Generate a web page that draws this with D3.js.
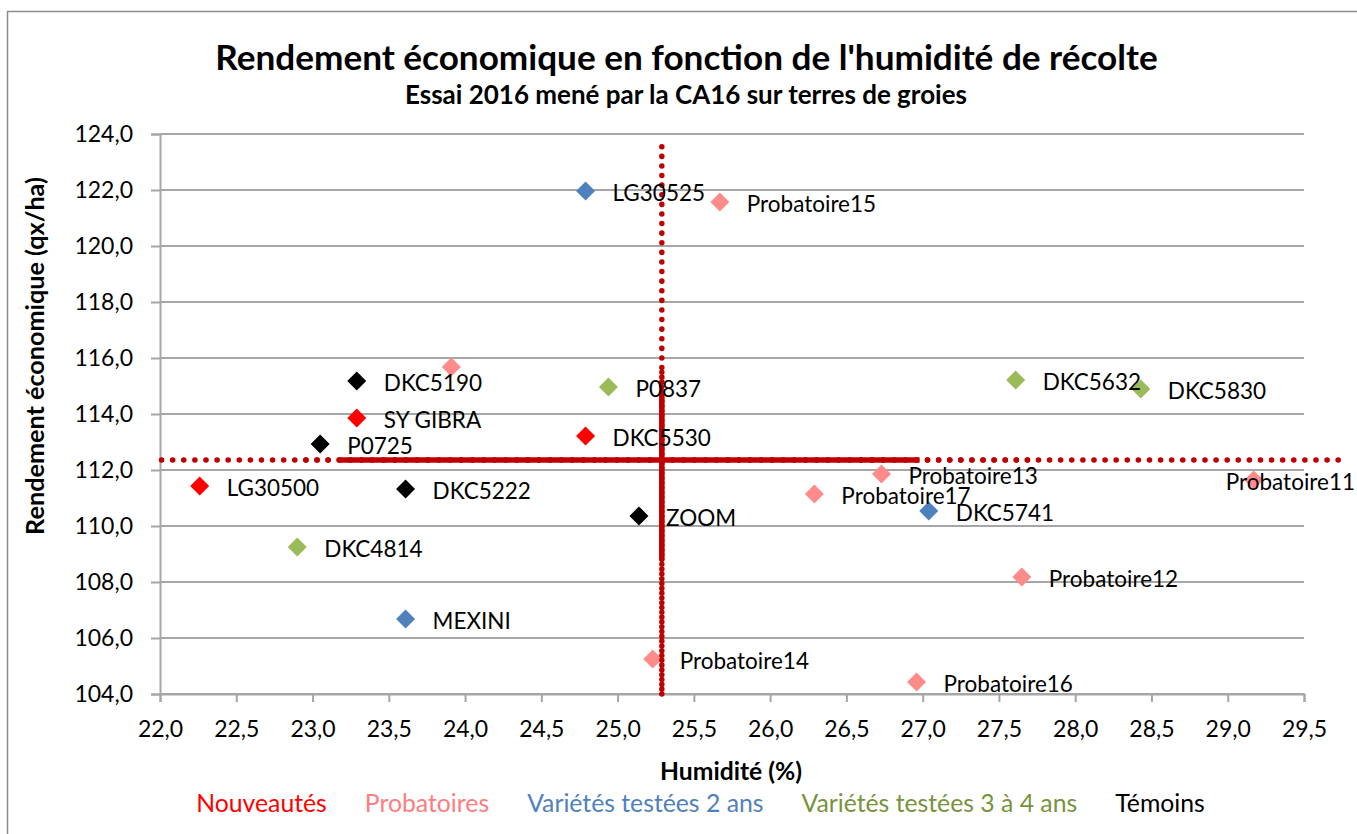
<!DOCTYPE html>
<html>
<head>
<meta charset="utf-8">
<script src="https://cdn.jsdelivr.net/npm/d3@7"></script>
<style>
  html, body { margin: 0; padding: 0; background: #fff; }
  svg { display: block; font-family: Lato, "Open Sans", sans-serif; }
</style>
</head>
<body>
<svg id="chart" width="1357" height="834"></svg>
<script>
// ---------------- DATA ----------------
const titleText = "Rendement économique en fonction de l'humidité de récolte";
const subtitleText = "Essai 2016 mené par la CA16 sur terres de groies";
const xAxisTitle = "Humidité (%)";
const yAxisTitle = "Rendement économique (qx/ha)";

const xTickValues = [22.0, 22.5, 23.0, 23.5, 24.0, 24.5, 25.0, 25.5, 26.0, 26.5, 27.0, 27.5, 28.0, 28.5, 29.0, 29.5];
const yTickValues = [104, 106, 108, 110, 112, 114, 116, 118, 120, 122, 124];

const seriesNames = ["Nouveautés", "Probatoires", "Variétés testées 2 ans", "Variétés testées 3 à 4 ans", "Témoins"];

const nouveautesNames = ["LG30500", "SY GIBRA", "DKC5530"];
const nouveautesX = [22.26, 23.29, 24.79];
const nouveautesY = [111.43, 113.86, 113.21];

const probatoiresNames = ["", "Probatoire15", "Probatoire13", "Probatoire17", "Probatoire11", "Probatoire12", "Probatoire14", "Probatoire16"];
const probatoiresX = [23.91, 25.67, 26.73, 26.29, 29.17, 27.65, 25.23, 26.96];
const probatoiresY = [115.68, 121.57, 111.86, 111.14, 111.64, 108.18, 105.25, 104.43];

const deuxAnsNames = ["LG30525", "DKC5741", "MEXINI"];
const deuxAnsX = [24.79, 27.04, 23.61];
const deuxAnsY = [121.96, 110.54, 106.68];

const troisAnsNames = ["P0837", "DKC5632", "DKC5830", "DKC4814"];
const troisAnsX = [24.94, 27.61, 28.43, 22.90];
const troisAnsY = [114.96, 115.21, 114.89, 109.25];

const temoinsNames = ["DKC5190", "P0725", "DKC5222", "ZOOM"];
const temoinsX = [23.29, 23.05, 23.61, 25.14];
const temoinsY = [115.18, 112.93, 111.32, 110.36];

// mean reference lines (moyennes)
const meanX = 25.29;
const meanY = 112.36;
const hLineExtent = [22.01, 29.74];
const hDenseExtent = [22.92, 27.70];
const hSolidExtent = [23.18, 26.98];
const vLineExtent = [104.0, 123.8];
const vDenseExtent = [104.0, 115.6];
const vSolidExtent = [108.8, 114.6];

// ---------------- STYLE ----------------
const markerColors = ["#FF0000", "#FF8B8B", "#4F81BD", "#9BBB59", "#000000"];
const legendColors = ["#FF0000", "#FF7C80", "#4F81BD", "#77933C", "#000000"];
const meanColor = "#C00000";
const gridColor = "#A6A6A6";

const svg = d3.select("#chart");
const x = d3.scaleLinear().domain([22, 29.5]).range([160, 1304]);
const y = d3.scaleLinear().domain([104, 124]).range([694, 134]);
const fmt = v => d3.format(".1f")(v).replace(".", ",");

// outer frame
svg.append("path")
  .attr("d", "M7.5,840 L7.5,11.5 L1360,11.5")
  .attr("fill", "none").attr("stroke", "#8C8C8C").attr("stroke-width", 1.5);

function fitText(sel, target) {
  const w = sel.node().getComputedTextLength();
  const fs = parseFloat(sel.attr("font-size"));
  sel.attr("font-size", fs * target / w);
}

// titles
const t1 = svg.append("text").attr("x", 686.5).attr("y", 70).attr("text-anchor", "middle")
  .attr("font-weight", "bold").attr("font-size", 36).attr("fill", "#000").text(titleText);
fitText(t1, 943);
const t2 = svg.append("text").attr("x", 686).attr("y", 104).attr("text-anchor", "middle")
  .attr("font-weight", "bold").attr("font-size", 22).attr("fill", "#000").text(subtitleText);
fitText(t2, 562);

// gridlines
svg.append("g").selectAll("line").data(yTickValues).join("line")
  .attr("x1", x(22)).attr("x2", x(29.5))
  .attr("y1", d => y(d)).attr("y2", d => y(d))
  .attr("stroke", gridColor).attr("stroke-width", 2);

// axes
const xAxis = svg.append("g").attr("transform", `translate(0,${y(104)})`)
  .call(d3.axisBottom(x).tickValues(xTickValues).tickFormat(fmt).tickSize(8).tickPadding(19));
const yAxis = svg.append("g").attr("transform", `translate(${x(22)},0)`)
  .call(d3.axisLeft(y).tickValues(yTickValues).tickFormat(fmt).tickSize(9).tickPadding(18));
[xAxis, yAxis].forEach(g => {
  g.select(".domain").attr("stroke", gridColor).attr("stroke-width", 2);
  g.selectAll(".tick line").attr("stroke", gridColor).attr("stroke-width", 2);
  g.selectAll(".tick text").attr("font-size", 23).attr("fill", "#000")
    .attr("font-family", "Lato, 'Open Sans', sans-serif");
});

// axis titles
const xt = svg.append("text").attr("x", 731).attr("y", 780).attr("text-anchor", "middle")
  .attr("font-weight", "bold").attr("font-size", 21).text(xAxisTitle);
fitText(xt, 142);
const yt = svg.append("text").attr("transform", "translate(44,356) rotate(-90)")
  .attr("text-anchor", "middle").attr("font-weight", "bold").attr("font-size", 21).text(yAxisTitle);
fitText(yt, 358);

// points
const allSeries = [
  {names: nouveautesNames, xs: nouveautesX, ys: nouveautesY},
  {names: probatoiresNames, xs: probatoiresX, ys: probatoiresY},
  {names: deuxAnsNames, xs: deuxAnsX, ys: deuxAnsY},
  {names: troisAnsNames, xs: troisAnsX, ys: troisAnsY},
  {names: temoinsNames, xs: temoinsX, ys: temoinsY}
];
const pts = [];
allSeries.forEach((s, si) => s.names.forEach((n, i) => pts.push({name: n, x: s.xs[i], y: s.ys[i], s: si})));

const r = 9.5;
const diamond = d => `M${x(d.x)},${y(d.y) - r}L${x(d.x) + r},${y(d.y)}L${x(d.x)},${y(d.y) + r}L${x(d.x) - r},${y(d.y)}Z`;
svg.append("g").selectAll("path").data(pts).join("path")
  .attr("d", diamond).attr("fill", d => markerColors[d.s]);

// mean lines
const mg = svg.append("g").attr("stroke", meanColor).attr("fill", "none");
function hSeg(ext, dash, w, offset) {
  mg.append("line").attr("x1", x(ext[0])).attr("x2", x(ext[1])).attr("y1", y(meanY)).attr("y2", y(meanY))
    .attr("stroke-width", w).attr("stroke-linecap", dash ? "round" : "butt")
    .attr("stroke-dasharray", dash).attr("stroke-dashoffset", offset || 0);
}
function vSeg(ext, dash, w, offset) {
  mg.append("line").attr("y1", y(ext[0])).attr("y2", y(ext[1])).attr("x1", x(meanX)).attr("x2", x(meanX))
    .attr("stroke-width", w).attr("stroke-linecap", dash ? "round" : "butt")
    .attr("stroke-dasharray", dash).attr("stroke-dashoffset", offset || 0);
}
hSeg(hLineExtent, "0.1,11", 5.5);
hSeg(hDenseExtent, "0.1,11", 5.5, 5.5);
hSeg(hSolidExtent, null, 5.5);
vSeg(vLineExtent, "0.1,9.5", 5.5);
vSeg(vDenseExtent, "0.1,9.5", 5.5, 4.75);
vSeg(vSolidExtent, null, 5.5);

// labels
svg.append("g").selectAll("text").data(pts.filter(d => d.name)).join("text")
  .attr("x", d => d.name === "Probatoire11" ? 1355 : x(d.x) + 27)
  .attr("y", d => y(d.y) + 2)
  .attr("text-anchor", d => d.name === "Probatoire11" ? "end" : "start")
  .attr("dy", "0.35em").attr("font-size", 22.5).attr("fill", "#000")
  .text(d => d.name);

// legend
const lg = svg.append("g");
const items = seriesNames.map((n, i) => lg.append("text").attr("y", 812).attr("font-size", 22)
  .attr("fill", legendColors[i]).text(n));
let widths = items.map(t => t.node().getComputedTextLength());
const gap = 38;
const scaleF = (1009 - gap * (widths.length - 1)) / d3.sum(widths);
items.forEach(t => t.attr("font-size", 22 * scaleF));
widths = items.map(t => t.node().getComputedTextLength());
const total = d3.sum(widths) + gap * (widths.length - 1);
let cx = 700.5 - total / 2;
items.forEach((t, i) => { t.attr("x", cx); cx += widths[i] + gap; });
</script>
</body>
</html>
